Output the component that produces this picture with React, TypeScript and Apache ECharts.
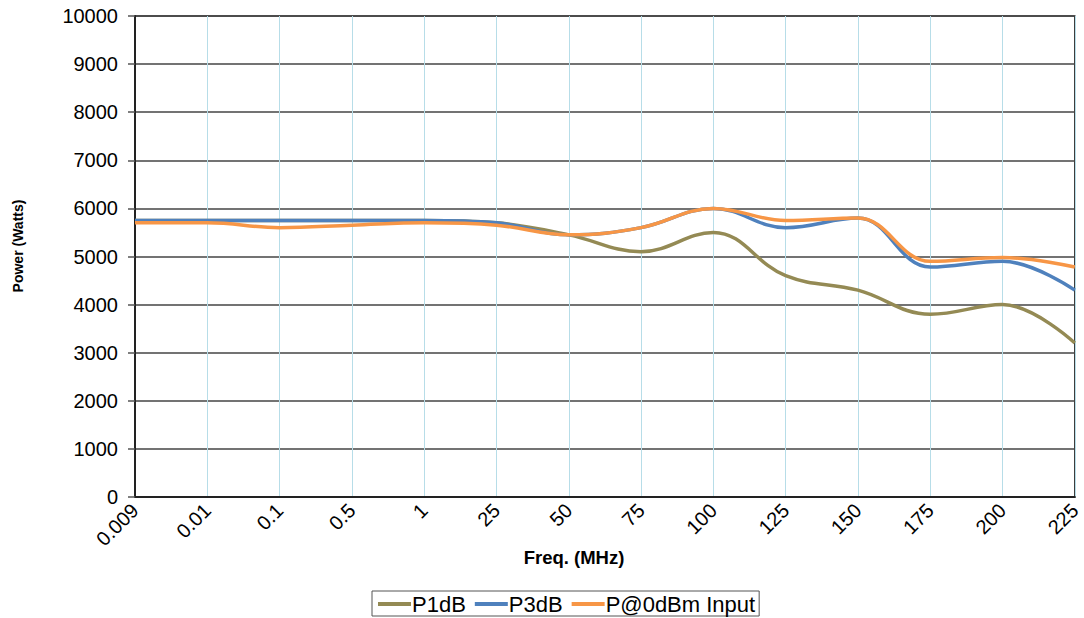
import React, { useEffect, useRef } from "react";
import * as echarts from "echarts";

const categories = ["0.009", "0.01", "0.1", "0.5", "1", "25", "50", "75", "100", "125", "150", "175", "200", "225"];
const p1dB = [5750, 5750, 5750, 5750, 5750, 5700, 5450, 5100, 5500, 4600, 4300, 3800, 4000, 3200];
const p3dB = [5750, 5750, 5750, 5750, 5750, 5700, 5450, 5600, 6000, 5600, 5800, 4780, 4900, 4300];
const p0dBm = [5700, 5700, 5600, 5650, 5700, 5650, 5450, 5600, 6000, 5750, 5800, 4900, 4980, 4780];
const yTicks = { min: 0, max: 10000, interval: 1000 };
const xTitle = "Freq. (MHz)";
const yTitle = "Power (Watts)";

const FONT = "Liberation Sans, Arial, sans-serif";

export default function App() {
  const ref = useRef<HTMLDivElement>(null);
  useEffect(() => {
    if (!ref.current) return;
    const chart = echarts.init(ref.current, null, { renderer: "svg" });
    const mk = (name: string, data: number[], color: string) => ({
      name,
      type: "line",
      data,
      smooth: 0.4,
      symbol: "none",
      showSymbol: false,
      lineStyle: { color, width: 3.5 },
      itemStyle: { color },
    });
    chart.setOption({
      animation: false,
      textStyle: { fontFamily: FONT },
      grid: {
        left: 135,
        right: 7,
        top: 16,
        bottom: 121,
        show: true,
        borderColor: "#333",
        borderWidth: 1.5,
        backgroundColor: "transparent",
      },
      graphic: [
        {
          type: "text",
          x: 574,
          y: 557,
          style: {
            text: xTitle,
            fontFamily: FONT,
            fontSize: 18.5,
            fontWeight: "bold",
            fill: "#000",
            align: "center",
            verticalAlign: "middle",
          },
        },
        {
          type: "text",
          x: 18,
          y: 246,
          rotation: Math.PI / 2,
          style: {
            text: yTitle,
            fontFamily: FONT,
            fontSize: 14,
            fontWeight: "bold",
            fill: "#000",
            align: "center",
            verticalAlign: "middle",
          },
        },
      ],
      legend: {
        bottom: 2,
        left: 372,
        data: [
          { name: "P1dB", icon: "rect" },
          { name: "P3dB", icon: "rect" },
          { name: "P@0dBm Input", icon: "rect" },
        ],
        borderColor: "#555",
        borderWidth: 1,
        padding: [2, 4, 1, 6],
        itemGap: 9,
        itemWidth: 33,
        itemHeight: 4,
        textStyle: { fontFamily: FONT, fontSize: 22, color: "#000", padding: [0, 0, 0, -4] },
      },
      xAxis: {
        type: "category",
        data: categories,
        boundaryGap: false,
        axisLine: { show: true, lineStyle: { color: "#222", width: 2 } },
        axisTick: { show: false },
        axisLabel: {
          rotate: 45,
          margin: 10,
          fontFamily: FONT,
          fontSize: 20,
          color: "#000",
          interval: 0,
        },
        splitLine: { show: true, interval: 0, lineStyle: { color: "#b7dde8", width: 1 } },
      },
      yAxis: {
        type: "value",
        min: yTicks.min,
        max: yTicks.max,
        interval: yTicks.interval,
        axisLine: { show: true, lineStyle: { color: "#222", width: 2 } },
        axisTick: { show: true, inside: false, length: 7, lineStyle: { color: "#555", width: 1.5 } },
        axisLabel: { fontFamily: FONT, fontSize: 20, color: "#000", margin: 17, formatter: (v: number) => String(v) },
        splitLine: { show: true, lineStyle: { color: "#444", width: 1.5 } },
      },
      series: [
        mk("P1dB", p1dB, "#948a54"),
        mk("P3dB", p3dB, "#4f81bd"),
        mk("P@0dBm Input", p0dBm, "#f79646"),
      ],
    });
    return () => chart.dispose();
  }, []);
  return <div ref={ref} style={{ width: 1084, height: 618, position: "absolute", left: 0, top: 0 }} />;
}
